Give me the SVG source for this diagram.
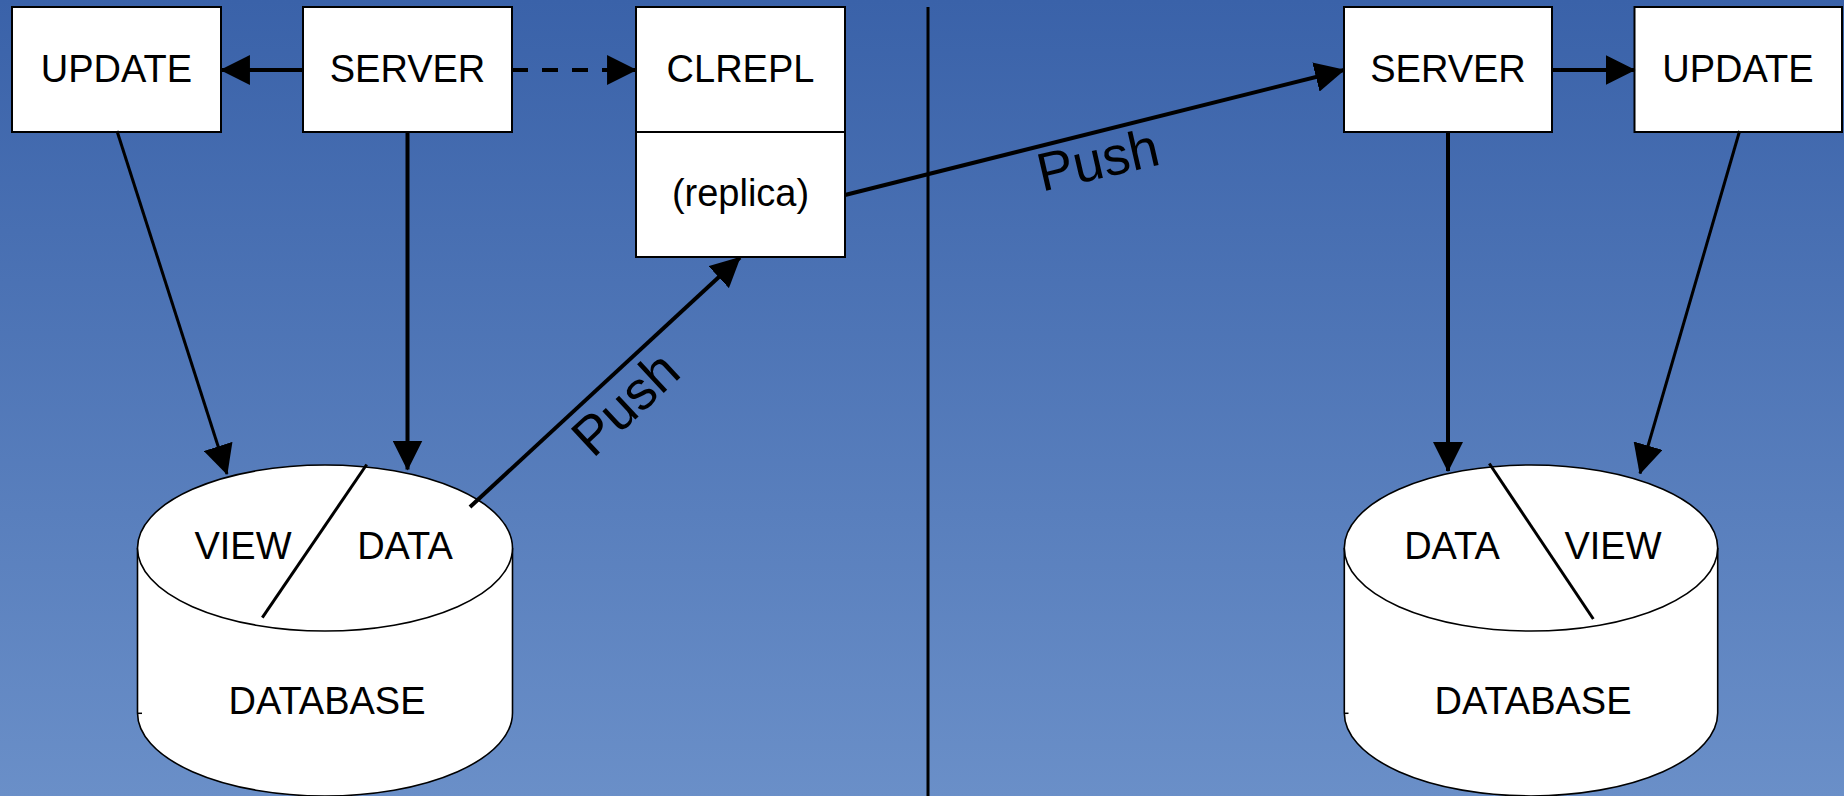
<svg xmlns="http://www.w3.org/2000/svg" width="1844" height="796" viewBox="0 0 1844 796">
<defs>
<linearGradient id="bg" x1="0" y1="0" x2="0" y2="1">
<stop offset="0" stop-color="#3a62a9"/>
<stop offset="1" stop-color="#6a8fc8"/>
</linearGradient>
<marker id="ah" markerUnits="userSpaceOnUse" markerWidth="30" markerHeight="30" viewBox="0 0 29 29" refX="28" refY="14.5" orient="auto">
<path d="M0,0 L29,14.5 L0,29 z" fill="#000"/>
</marker>
<style>
.box{fill:#fff;stroke:#000;stroke-width:2}
.cyl{fill:#fff;stroke:#000;stroke-width:1.6}
.t{font-family:"Liberation Sans",Arial,sans-serif;font-size:38px;fill:#000;text-anchor:middle}
.push{font-family:"Liberation Sans",Arial,sans-serif;font-size:54px;fill:#000;text-anchor:middle}
.c{stroke:#000;stroke-width:4;fill:none}
.cd{stroke:#000;stroke-width:4;fill:none;stroke-dasharray:16 14}
.thin{stroke:#000;stroke-width:3;fill:none}
</style>
</defs>
<rect x="0" y="0" width="1844" height="796" fill="url(#bg)"/>
<line x1="928" y1="7" x2="928" y2="796" stroke="#000" stroke-width="3"/>

<g id="update-left">
<rect class="box" x="12" y="7" width="209" height="125"/>
<text class="t" x="116.5" y="81.5">UPDATE</text>
</g>
<g id="server-left">
<rect class="box" x="303" y="7" width="209" height="125"/>
<text class="t" x="407.5" y="81.5">SERVER</text>
</g>
<g id="clrepl">
<rect class="box" x="636" y="7" width="209" height="125"/>
<rect class="box" x="636" y="132" width="209" height="125"/>
<text class="t" x="740.5" y="81.5">CLREPL</text>
<text class="t" x="740.5" y="206">(replica)</text>
</g>
<g id="server-right">
<rect class="box" x="1344" y="7" width="208" height="125"/>
<text class="t" x="1448" y="81.5">SERVER</text>
</g>
<g id="update-right">
<rect class="box" x="1634.5" y="7" width="207.5" height="125"/>
<text class="t" x="1738" y="81.5">UPDATE</text>
</g>

<g id="db-left">
<path class="cyl" d="M137.5,548 L137.5,713 A187.5,83 0 0 0 512.5,713 L512.5,548"/>
<ellipse class="cyl" cx="325" cy="548" rx="187.5" ry="83"/>
<line x1="137.5" y1="713.3" x2="142" y2="713.3" stroke="#000" stroke-width="1.5"/>
<line class="thin" x1="366.7" y1="464.5" x2="262.3" y2="617.7"/>
<text class="t" x="243" y="558.5">VIEW</text>
<text class="t" x="405" y="558.5">DATA</text>
<text class="t" x="327" y="713.5">DATABASE</text>
</g>
<g id="db-right">
<path class="cyl" d="M1344.3,548 L1344.3,713 A186.7,83 0 0 0 1717.7,713 L1717.7,548"/>
<ellipse class="cyl" cx="1531" cy="548" rx="186.7" ry="83"/>
<line x1="1344.3" y1="713.3" x2="1348.5" y2="713.3" stroke="#000" stroke-width="1.5"/>
<line class="thin" x1="1489.3" y1="463.5" x2="1593.3" y2="619"/>
<text class="t" x="1452" y="558.5">DATA</text>
<text class="t" x="1613" y="558.5">VIEW</text>
<text class="t" x="1533" y="713.5">DATABASE</text>
</g>

<g id="connectors">
<line class="c" x1="303" y1="70" x2="221" y2="70" marker-end="url(#ah)"/>
<line class="cd" x1="512" y1="70" x2="636" y2="70" marker-end="url(#ah)"/>
<line class="thin" x1="117" y1="131" x2="227" y2="474" marker-end="url(#ah)"/>
<line class="c" x1="407.5" y1="131" x2="407.5" y2="469.5" marker-end="url(#ah)"/>
<line class="c" x1="470" y1="507" x2="740" y2="257.5" marker-end="url(#ah)"/>
<line class="c" x1="845" y1="195" x2="1344" y2="70" marker-end="url(#ah)"/>
<line class="c" x1="1552" y1="70" x2="1634.5" y2="70" marker-end="url(#ah)"/>
<line class="c" x1="1448" y1="131" x2="1448" y2="471" marker-end="url(#ah)"/>
<line class="thin" x1="1739.6" y1="131" x2="1640" y2="473.5" marker-end="url(#ah)"/>
<text class="push" transform="translate(638,417) rotate(-43)">Push</text>
<text class="push" transform="translate(1102,178) rotate(-13)">Push</text>
</g>
</svg>
